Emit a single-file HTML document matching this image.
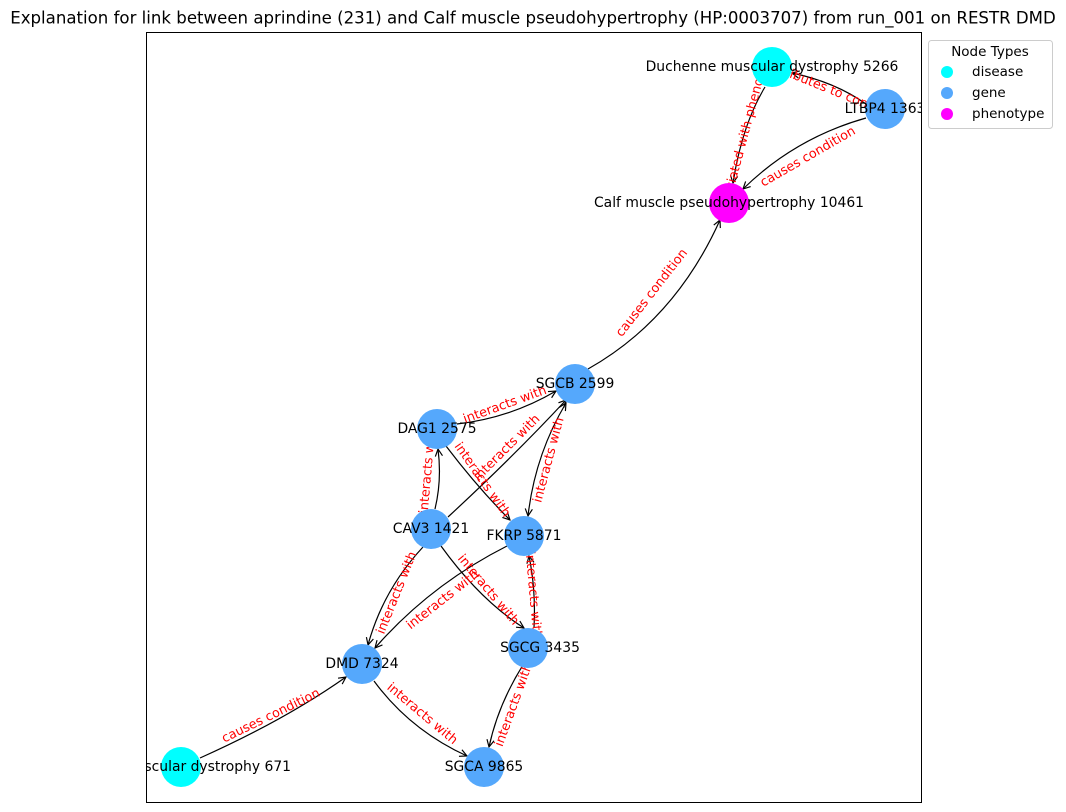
<!DOCTYPE html>
<html><head><meta charset="utf-8"><style>
html,body{margin:0;padding:0;background:#fff;}
svg{display:block;font-family:"DejaVu Sans","Liberation Sans",sans-serif;}
.e{fill:none;stroke:#000;stroke-width:1.2;marker-end:url(#a);}
.l{fill:#ff0000;font-size:12.8px;text-anchor:middle;dominant-baseline:central;}
.n{font-size:13.9px;text-anchor:middle;dominant-baseline:central;fill:#000;}
</style></head><body>
<svg width="1066" height="812" viewBox="0 0 1066 812">
<defs>
<marker id="a" viewBox="0 0 10 10" refX="9" refY="5" markerWidth="9" markerHeight="9" orient="auto-start-reverse" markerUnits="userSpaceOnUse"><path d="M1,1 L9,5 L1,9" fill="none" stroke="#000" stroke-width="1.3"/></marker>
<clipPath id="c"><rect x="146" y="32" width="775" height="770"/></clipPath>
</defs>
<text x="533" y="18" font-size="16.6" text-anchor="middle" dominant-baseline="central">Explanation for link between aprindine (231) and Calf muscle pseudohypertrophy (HP:0003707) from run_001 on RESTR DMD</text>
<g clip-path="url(#c)">
<path class="e" d="M765,87 Q742,125 733,183"/>
<path class="e" d="M866,104 Q835,82 792,73"/>
<path class="e" d="M866,118 Q795,138 743,189"/>
<path class="e" d="M588,369 Q675,320 720,220"/>
<path class="e" d="M457,424 Q510,418 556,391"/>
<path class="e" d="M448,517 Q515,455 566,400"/>
<path class="e" d="M566,403 Q535,455 528,516" marker-start="url(#a)"/>
<path class="e" d="M446,446 Q478,488 510,520"/>
<path class="e" d="M435,509 Q442,480 438,449"/>
<path class="e" d="M423,547 Q383,590 368,645"/>
<path class="e" d="M507,546 Q430,585 375,648"/>
<path class="e" d="M441,546 Q480,600 524,628"/>
<path class="e" d="M534,628 Q536,590 529,556"/>
<path class="e" d="M523,665 Q498,705 489,747"/>
<path class="e" d="M374,681 Q410,730 467,756"/>
<path class="e" d="M200,758 Q285,720 346,677"/>
<g class="l">
<text x="745" y="134" transform="rotate(-75 745 134)">associated with phenotype</text>
<text x="830" y="90" transform="rotate(22 830 90)">contributes to condition</text>
<text x="808" y="157" transform="rotate(-30 808 157)">causes condition</text>
<text x="652" y="293" transform="rotate(-52 652 293)">causes condition</text>
<text x="505" y="405" transform="rotate(-20 505 405)">interacts with</text>
<text x="507" y="448" transform="rotate(-45 507 448)">interacts with</text>
<text x="549" y="460" transform="rotate(-75 549 460)">interacts with</text>
<text x="482" y="480" transform="rotate(55 482 480)">interacts with</text>
<text x="428" y="470" transform="rotate(-85 428 470)">interacts with</text>
<text x="397" y="593" transform="rotate(-68 397 593)">interacts with</text>
<text x="443" y="600" transform="rotate(-38 443 600)">interacts with</text>
<text x="488" y="590" transform="rotate(50 488 590)">interacts with</text>
<text x="533" y="595" transform="rotate(85 533 595)">interacts with</text>
<text x="514" y="705" transform="rotate(-70 514 705)">interacts with</text>
<text x="422" y="714" transform="rotate(40 422 714)">interacts with</text>
<text x="271" y="716" transform="rotate(-26 271 716)">causes condition</text>
</g>
<g>
<circle cx="772" cy="67" r="20" fill="#00ffff"/>
<circle cx="885" cy="109" r="20" fill="#55a8fc"/>
<circle cx="729" cy="203" r="20" fill="#ff00ff"/>
<circle cx="575" cy="384" r="20" fill="#55a8fc"/>
<circle cx="437" cy="429" r="20" fill="#55a8fc"/>
<circle cx="431" cy="529" r="20" fill="#55a8fc"/>
<circle cx="524" cy="536" r="20" fill="#55a8fc"/>
<circle cx="528" cy="648" r="20" fill="#55a8fc"/>
<circle cx="362" cy="664" r="20" fill="#55a8fc"/>
<circle cx="484" cy="767" r="20" fill="#55a8fc"/>
<circle cx="181" cy="767" r="20" fill="#00ffff"/>
</g>
<g class="n">
<text x="772" y="67">Duchenne muscular dystrophy 5266</text>
<text x="885" y="109">LTBP4 1363</text>
<text x="729" y="203">Calf muscle pseudohypertrophy 10461</text>
<text x="575" y="384">SGCB 2599</text>
<text x="437" y="429">DAG1 2575</text>
<text x="431" y="529">CAV3 1421</text>
<text x="524" y="536">FKRP 5871</text>
<text x="540" y="648">SGCG 3435</text>
<text x="362" y="664">DMD 7324</text>
<text x="484" y="767">SGCA 9865</text>
<text x="291" y="767" text-anchor="end">Limb-girdle muscular dystrophy 671</text>
</g>
</g>
<rect x="146.5" y="32.5" width="775" height="770" fill="none" stroke="#000" stroke-width="1"/>
<rect x="928.5" y="40.5" width="124" height="88" rx="3" fill="#fff" stroke="#ccc"/>
<text x="990" y="52" font-size="13.5" text-anchor="middle" dominant-baseline="central">Node Types</text>
<circle cx="947" cy="72" r="6" fill="#00ffff"/>
<circle cx="947" cy="93" r="6" fill="#55a8fc"/>
<circle cx="947" cy="114" r="6" fill="#ff00ff"/>
<text x="972" y="72" font-size="13.5" dominant-baseline="central">disease</text>
<text x="972" y="93" font-size="13.5" dominant-baseline="central">gene</text>
<text x="972" y="114" font-size="13.5" dominant-baseline="central">phenotype</text>
</svg>
</body></html>
